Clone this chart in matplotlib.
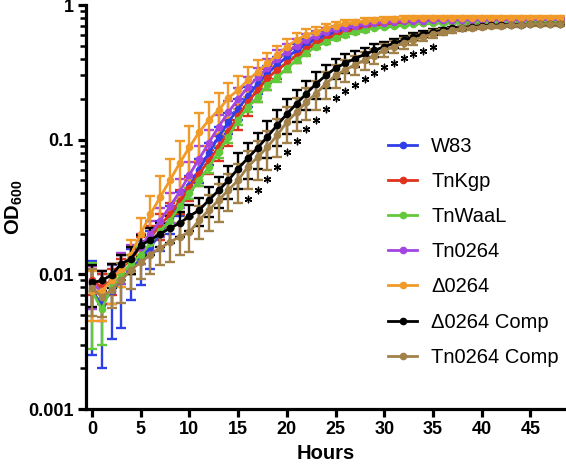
import matplotlib
matplotlib.use("Agg")
import matplotlib.pyplot as plt
import numpy as np

plt.rcParams['font.family'] = ['Liberation Sans', 'DejaVu Sans']
plt.rcParams['mathtext.fontset'] = 'custom'
plt.rcParams['mathtext.bf'] = 'Liberation Sans:bold'
plt.rcParams['mathtext.rm'] = 'Liberation Sans'

hours = list(range(0, 49))

names = ["W83", "TnKgp", "TnWaaL", "Tn0264", "\u03940264", "\u03940264 Comp", "Tn0264 Comp"]
colors = ["#2F3FE8", "#E0321F", "#62C93A", "#A445E0", "#F09A2A", "#000000", "#A3824A"]

w83 = [0.0075, 0.006, 0.0075, 0.009, 0.011, 0.013, 0.016, 0.020, 0.026, 0.034,
       0.045, 0.060, 0.080, 0.105, 0.135, 0.170, 0.210, 0.260, 0.310, 0.360,
       0.410, 0.460, 0.510, 0.560, 0.600, 0.630, 0.660, 0.680, 0.700, 0.710,
       0.720, 0.730, 0.740, 0.740, 0.750, 0.750, 0.760, 0.760, 0.760, 0.770,
       0.770, 0.770, 0.770, 0.770, 0.770, 0.770, 0.770, 0.770, 0.770]
w83_err = [0.0050, 0.0040, 0.0042, 0.0050, 0.0045, 0.0047, 0.0050, 0.0050, 0.0060, 0.0070,
           0.009, 0.012, 0.015, 0.019, 0.024, 0.030, 0.035, 0.040, 0.045, 0.050,
           0.050, 0.050, 0.050, 0.045, 0.040, 0.035, 0.030, 0.030, 0.025, 0.020,
           0.020, 0.020, 0.020, 0.020, 0.020, 0.020, 0.020, 0.020, 0.020, 0.020,
           0.020, 0.020, 0.020, 0.020, 0.020, 0.020, 0.020, 0.020, 0.020]

tnkgp = [0.0090, 0.0080, 0.0090, 0.0110, 0.0130, 0.0160, 0.0190, 0.0230, 0.0280, 0.0350,
         0.044, 0.056, 0.070, 0.088, 0.114, 0.150, 0.190, 0.234, 0.285, 0.330,
         0.370, 0.420, 0.470, 0.520, 0.560, 0.600, 0.630, 0.660, 0.680, 0.700,
         0.710, 0.720, 0.730, 0.740, 0.740, 0.750, 0.750, 0.750, 0.760, 0.760,
         0.760, 0.760, 0.760, 0.760, 0.760, 0.760, 0.760, 0.760, 0.760]
tnkgp_err = [0.002, 0.002, 0.002, 0.002, 0.003, 0.003, 0.004, 0.005, 0.006, 0.007,
             0.009, 0.011, 0.014, 0.018, 0.025, 0.032, 0.040, 0.045, 0.050, 0.050,
             0.050, 0.050, 0.045, 0.040, 0.035, 0.030, 0.025, 0.020, 0.020, 0.015,
             0.015, 0.010, 0.010, 0.010, 0.010, 0.010, 0.010, 0.010, 0.010, 0.010,
             0.010, 0.010, 0.010, 0.010, 0.010, 0.010, 0.010, 0.010, 0.010]

tnwaal = [0.0075, 0.0055, 0.0080, 0.0100, 0.0120, 0.0140, 0.0170, 0.0210, 0.0250, 0.0320,
          0.040, 0.050, 0.063, 0.081, 0.105, 0.140, 0.175, 0.207, 0.255, 0.290,
          0.340, 0.390, 0.440, 0.490, 0.530, 0.570, 0.600, 0.630, 0.650, 0.675,
          0.690, 0.700, 0.710, 0.720, 0.730, 0.735, 0.740, 0.745, 0.750, 0.750,
          0.750, 0.750, 0.755, 0.755, 0.755, 0.755, 0.755, 0.755, 0.755]
tnwaal_err = [0.0047, 0.0025, 0.002, 0.002, 0.002, 0.002, 0.002, 0.002, 0.003, 0.003,
              0.004, 0.005, 0.006, 0.008, 0.010, 0.012, 0.015, 0.017, 0.020, 0.020,
              0.020, 0.020, 0.020, 0.020, 0.020, 0.020, 0.020, 0.020, 0.015, 0.015,
              0.010, 0.010, 0.010, 0.010, 0.010, 0.010, 0.010, 0.010, 0.010, 0.010,
              0.010, 0.010, 0.010, 0.010, 0.010, 0.010, 0.010, 0.010, 0.010]

tn0264 = [0.0085, 0.0075, 0.0090, 0.0115, 0.0135, 0.0160, 0.0200, 0.0250, 0.0320, 0.0410,
          0.055, 0.072, 0.095, 0.125, 0.160, 0.200, 0.245, 0.290, 0.340, 0.400,
          0.450, 0.500, 0.550, 0.590, 0.630, 0.660, 0.680, 0.700, 0.720, 0.730,
          0.740, 0.750, 0.755, 0.760, 0.765, 0.770, 0.770, 0.775, 0.775, 0.775,
          0.775, 0.780, 0.780, 0.780, 0.780, 0.780, 0.780, 0.780, 0.780]
tn0264_err = [0.003, 0.003, 0.003, 0.003, 0.003, 0.004, 0.005, 0.006, 0.008, 0.010,
              0.013, 0.017, 0.022, 0.028, 0.035, 0.040, 0.045, 0.050, 0.055, 0.060,
              0.060, 0.060, 0.055, 0.050, 0.045, 0.040, 0.035, 0.030, 0.025, 0.020,
              0.020, 0.015, 0.015, 0.015, 0.015, 0.015, 0.015, 0.015, 0.015, 0.015,
              0.015, 0.015, 0.015, 0.015, 0.015, 0.015, 0.015, 0.015, 0.015]

d0264 = [0.0075, 0.0075, 0.0090, 0.0110, 0.0140, 0.0200, 0.0280, 0.0375, 0.0500, 0.0670,
         0.088, 0.114, 0.140, 0.166, 0.204, 0.234, 0.277, 0.318, 0.370, 0.425,
         0.490, 0.550, 0.600, 0.630, 0.670, 0.700, 0.730, 0.745, 0.760, 0.770,
         0.780, 0.785, 0.790, 0.795, 0.800, 0.800, 0.800, 0.800, 0.800, 0.800,
         0.800, 0.800, 0.800, 0.800, 0.800, 0.800, 0.800, 0.800, 0.800]
d0264_err = [0.003, 0.003, 0.003, 0.003, 0.004, 0.006, 0.010, 0.016, 0.022, 0.030,
             0.038, 0.045, 0.050, 0.055, 0.060, 0.065, 0.070, 0.070, 0.070, 0.070,
             0.070, 0.065, 0.060, 0.055, 0.050, 0.045, 0.040, 0.035, 0.035, 0.035,
             0.035, 0.035, 0.035, 0.035, 0.035, 0.035, 0.035, 0.035, 0.035, 0.035,
             0.035, 0.035, 0.035, 0.035, 0.035, 0.035, 0.035, 0.035, 0.035]

d0264_comp = [0.0087, 0.0090, 0.0099, 0.0120, 0.0130, 0.0165, 0.0180, 0.0200, 0.0220, 0.0240,
              0.027, 0.030, 0.0356, 0.042, 0.050, 0.061, 0.073, 0.087, 0.105, 0.128,
              0.155, 0.185, 0.220, 0.260, 0.300, 0.340, 0.370, 0.400, 0.430, 0.460,
              0.490, 0.520, 0.550, 0.580, 0.610, 0.630, 0.650, 0.670, 0.680, 0.690,
              0.700, 0.705, 0.710, 0.715, 0.715, 0.720, 0.720, 0.720, 0.720]
d0264_comp_err = [0.003, 0.0015, 0.002, 0.002, 0.003, 0.003, 0.004, 0.004, 0.005, 0.005,
                  0.006, 0.007, 0.009, 0.011, 0.014, 0.018, 0.022, 0.026, 0.032, 0.038,
                  0.045, 0.050, 0.055, 0.060, 0.060, 0.060, 0.060, 0.055, 0.050, 0.050,
                  0.045, 0.040, 0.040, 0.035, 0.030, 0.030, 0.025, 0.020, 0.020, 0.015,
                  0.015, 0.015, 0.015, 0.015, 0.015, 0.015, 0.015, 0.015, 0.015]

tn0264_comp = [0.0079, 0.0068, 0.0076, 0.0091, 0.0108, 0.0123, 0.0140, 0.0157, 0.0174, 0.0190,
               0.0206, 0.0253, 0.030, 0.0356, 0.0423, 0.050, 0.063, 0.074, 0.088, 0.108,
               0.135, 0.160, 0.190, 0.220, 0.260, 0.300, 0.330, 0.360, 0.390, 0.420,
               0.460, 0.490, 0.520, 0.550, 0.580, 0.610, 0.630, 0.650, 0.670, 0.680,
               0.690, 0.700, 0.700, 0.710, 0.710, 0.720, 0.720, 0.720, 0.720]
tn0264_comp_err = [0.003, 0.002, 0.002, 0.003, 0.003, 0.003, 0.004, 0.004, 0.005, 0.005,
                   0.006, 0.007, 0.009, 0.011, 0.013, 0.016, 0.020, 0.024, 0.028, 0.034,
                   0.040, 0.045, 0.050, 0.055, 0.060, 0.060, 0.060, 0.060, 0.060, 0.055,
                   0.050, 0.050, 0.045, 0.045, 0.040, 0.040, 0.035, 0.030, 0.030, 0.025,
                   0.025, 0.020, 0.020, 0.020, 0.020, 0.020, 0.020, 0.020, 0.020]

sig_hours = list(range(16, 36))

x_ticks = [0, 5, 10, 15, 20, 25, 30, 35, 40, 45]
y_ticks = [0.001, 0.01, 0.1, 1]
y_tick_labels = ["0.001", "0.01", "0.1", "1"]

series = [w83, tnkgp, tnwaal, tn0264, d0264, d0264_comp, tn0264_comp]
errors = [w83_err, tnkgp_err, tnwaal_err, tn0264_err, d0264_err, d0264_comp_err, tn0264_comp_err]

W, H = 566, 470
fig = plt.figure(figsize=(W / 100, H / 100), dpi=100)
ax = fig.add_axes([86 / W, 61 / H, (565 - 86) / W, (409 - 5) / H])

handles = []
for vals, errs, col, name in zip(series, errors, colors, names):
    c = ax.errorbar(hours, vals, yerr=errs, color=col, marker='o', ms=4.5,
                    lw=2.0, elinewidth=1.7, capsize=3.5, capthick=1.7, label=name)
    handles.append(c.lines[0])

# significance asterisks below Tn0264 Comp
tc = np.array(tn0264_comp)
te = np.array(tn0264_comp_err)
idx = np.array(sig_hours)
ax.scatter(idx, (tc[idx] - te[idx]) * 0.85, marker=(6, 2, 0), s=22,
           color='black', linewidths=1.0, zorder=5)

ax.set_yscale('log')
ax.set_ylim(0.001, 1)
ax.set_xlim(-0.62, 48.56)
ax.set_xticks(x_ticks)
ax.set_xticklabels([str(t) for t in x_ticks])
ax.set_yticks(y_ticks)
ax.set_yticklabels(y_tick_labels)

for s in ['top', 'right']:
    ax.spines[s].set_visible(False)
for s in ['left', 'bottom']:
    ax.spines[s].set_linewidth(2.3)

ax.tick_params(axis='both', which='major', direction='out', length=6, width=2.3,
               labelsize=13, pad=3)
ax.tick_params(axis='y', which='minor', direction='out', length=4, width=1.8)
for lab in ax.get_xticklabels() + ax.get_yticklabels():
    lab.set_fontweight('bold')

ax.set_xlabel("Hours", fontsize=14.5, fontweight='bold', labelpad=4)
ax.set_ylabel(r"$\mathbf{OD}_{\mathbf{600}}$", fontsize=14.5)
ax.yaxis.set_label_coords(-0.128, 0.5)

leg = ax.legend(handles=handles, labels=names, loc='upper left',
                bbox_to_anchor=(388 / W, 1 - 137 / H), bbox_transform=fig.transFigure,
                frameon=False, fontsize=14.5, handlelength=1.45, handletextpad=0.7,
                labelspacing=0.8, borderpad=0, borderaxespad=0)

fig.savefig("out.png", dpi=100)
